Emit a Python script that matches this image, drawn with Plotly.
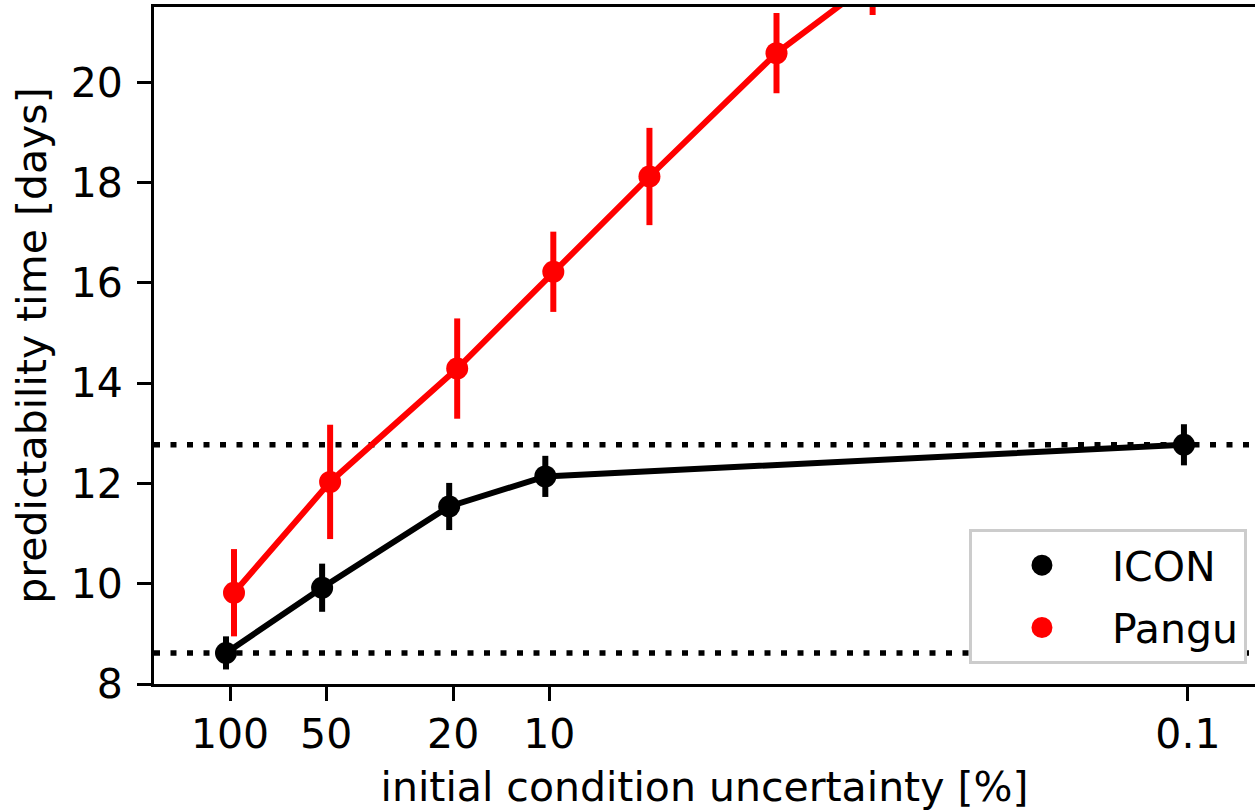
import plotly.graph_objects as go

# ---- data ----
icon_x = [100, 50, 20, 10, 0.1]
icon_y = [8.62, 9.92, 11.54, 12.14, 12.77]
icon_err = [0.33, 0.48, 0.47, 0.41, 0.41]

pangu_x = [100, 50, 20, 10, 5, 2, 1]
pangu_y = [9.82, 12.03, 14.29, 16.22, 18.12, 20.58, 22.02]
pangu_err = [0.87, 1.14, 1.0, 0.8, 0.97, 0.8, 0.68]

x_ticks = [100, 50, 20, 10, 0.1]
x_ticktext = ["100", "50", "20", "10", "0.1"]
y_ticks = [8, 10, 12, 14, 16, 18, 20]

# ---- styling ----
FONT = "DejaVu Sans"
FS = 41
DODGE = 10 ** (4 / 319.3)  # small horizontal dodge between the two series

fig = go.Figure()

fig.add_trace(go.Scatter(
    x=[v * DODGE for v in icon_x], y=icon_y,
    mode="lines+markers",
    line=dict(color="black", width=6),
    marker=dict(color="black", size=22),
    error_y=dict(type="data", array=icon_err, color="black", thickness=6, width=0),
    showlegend=False,
))
fig.add_trace(go.Scatter(
    x=[v / DODGE for v in pangu_x], y=pangu_y,
    mode="lines+markers",
    line=dict(color="red", width=6),
    marker=dict(color="red", size=22),
    error_y=dict(type="data", array=pangu_err, color="red", thickness=6, width=0),
    showlegend=False,
))

# legend-only entries (marker only, like the reference)
fig.add_trace(go.Scatter(x=[None], y=[None], mode="markers", name="ICON", legendgroup="a",
                         marker=dict(color="black", size=16, line=dict(color="black", width=5))))
fig.add_trace(go.Scatter(x=[None], y=[None], mode="markers", name="Pangu", legendgroup="b",
                         marker=dict(color="red", size=16, line=dict(color="red", width=5))))

# dotted reference lines at ICON extremes
for yv in (icon_y[0], icon_y[-1]):
    fig.add_shape(type="line", xref="paper", x0=0, x1=1, yref="y", y0=yv, y1=yv,
                  line=dict(color="black", width=5.5, dash="6px,10.5px"), layer="below")

fig.update_layout(
    width=1255, height=811,
    margin=dict(l=154, r=0, t=7, b=127),
    paper_bgcolor="white", plot_bgcolor="white",
    font=dict(family=FONT, size=FS, color="black"),
    legend=dict(
        x=0.9927, y=0.0295, xanchor="right", yanchor="bottom",
        bgcolor="white", bordercolor="#cccccc", borderwidth=3,
        font=dict(family=FONT, size=FS, color="black"),
        itemwidth=130, tracegroupgap=6,
    ),
)

fig.update_xaxes(
    type="log", range=[2.238, -1.210],
    tickvals=x_ticks, ticktext=x_ticktext,
    showgrid=False, zeroline=False,
    showline=True, linecolor="black", linewidth=3, mirror=True,
    ticks="outside", ticklen=14, tickwidth=3, tickcolor="black",
    ticklabelstandoff=-2,
    title=dict(text="initial condition uncertainty [%]", standoff=24,
               font=dict(family=FONT, size=FS)),
)
fig.update_yaxes(
    range=[8, 21.5],
    tickvals=y_ticks,
    showgrid=False, zeroline=False,
    showline=True, linecolor="black", linewidth=3,
    ticks="outside", ticklen=14, tickwidth=3, tickcolor="black",
    ticklabelstandoff=6,
    title=dict(text="predictability time [days]", standoff=12,
               font=dict(family=FONT, size=FS)),
)

fig.write_html("out.html")
